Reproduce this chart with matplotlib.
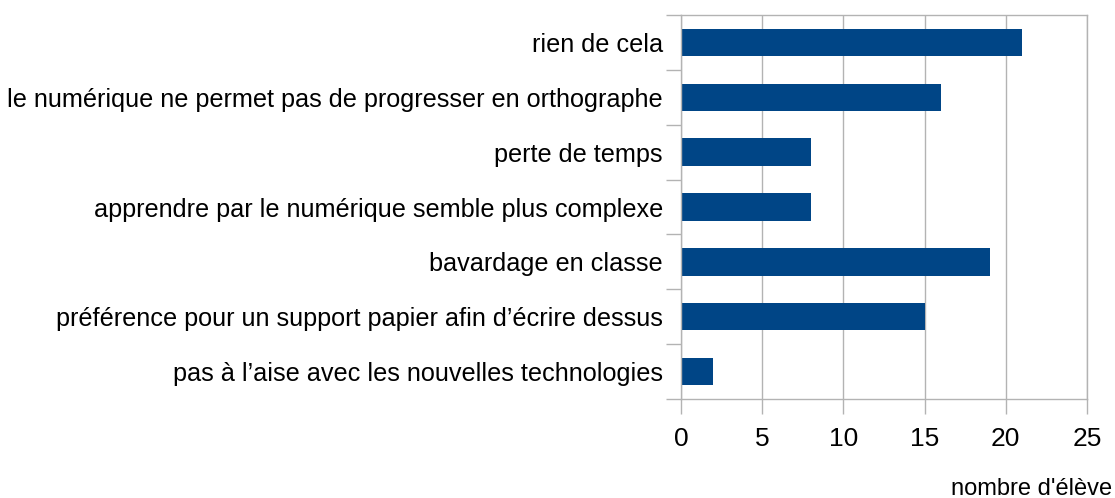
import matplotlib.pyplot as plt

# --- Données ---
categories = [
    "rien de cela",
    "le numérique ne permet pas de progresser en orthographe",
    "perte de temps",
    "apprendre par le numérique semble plus complexe",
    "bavardage en classe",
    "préférence pour un support papier afin d\u2019écrire dessus",
    "pas à l\u2019aise avec les nouvelles technologies",
]
valeurs = [21, 16, 8, 8, 19, 15, 2]
x_ticks = [0, 5, 10, 15, 20, 25]

plt.rcParams['font.family'] = ['Liberation Sans', 'DejaVu Sans']

fig = plt.figure(figsize=(11.15, 4.98), dpi=100)
ax = fig.add_axes([681 / 1115, 1 - 399 / 498, (1087 - 681) / 1115, (399 - 15) / 498])

pos = list(range(len(categories)))
ax.barh(pos, valeurs, height=0.5, color='#004586', zorder=2)

ax.set_xlim(0, 25)
ax.set_ylim(len(categories) - 0.5, -0.5)
ax.set_xticks(x_ticks)
ax.set_xticklabels([str(t) for t in x_ticks], fontsize=19)

# ticks majeurs entre les catégories, étiquettes au centre
ax.set_yticks([p - 0.5 for p in pos] + [len(categories) - 0.5])
ax.set_yticklabels([])
ax.set_yticks(pos, minor=True)
ax.set_yticklabels(categories, minor=True, fontsize=18.2)
ax.tick_params(axis='y', which='minor', length=0, pad=13)
ax.tick_params(axis='y', which='major', length=11, color='#b3b3b3', width=1)
ax.tick_params(axis='x', length=11, color='#b3b3b3', width=1, pad=9)

ax.grid(axis='x', color='#b3b3b3', linewidth=1, zorder=0)
for s in ax.spines.values():
    s.set_color('#b3b3b3')
    s.set_linewidth(1)

fig.text(1112 / 1115, 1 - 489 / 498, "nombre d'élève", ha='right', va='center', fontsize=17)

plt.savefig('out.png', dpi=100)
